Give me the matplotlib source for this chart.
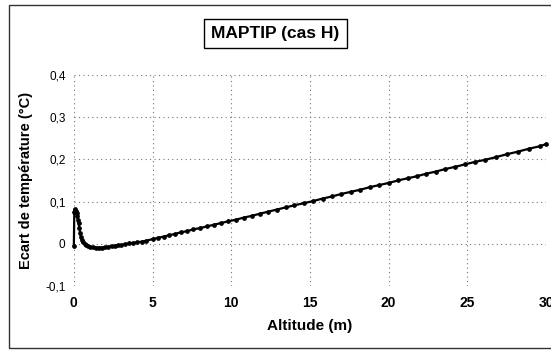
import matplotlib.pyplot as plt
from matplotlib.patches import Rectangle
from matplotlib.ticker import FuncFormatter

plt.rcParams['font.family'] = ['Liberation Sans', 'DejaVu Sans']

# altitude (m) and temperature difference (degC)
altitude = [0.0, 0.03, 0.06, 0.1, 0.14, 0.18, 0.22, 0.26, 0.3, 0.35, 0.4,
            0.45, 0.5, 0.6, 0.7, 0.8, 0.9, 1.0, 1.2, 1.4, 1.6, 1.8, 2.0,
            2.2, 2.4, 2.6, 2.8, 3.0, 3.25, 3.5, 3.75, 4.0, 4.3, 4.6, 5.0,
            5.35, 5.7, 6.05, 6.4, 6.8, 7.2, 7.6, 8.0, 8.45, 8.9, 9.35, 9.8,
            10.3, 10.8, 11.3, 11.8, 12.35, 12.9, 13.45, 14.0, 14.6, 15.2,
            15.8, 16.4, 17.0, 17.6, 18.2, 18.8, 19.4, 20.0, 20.6, 21.2,
            21.8, 22.4, 23.0, 23.6, 24.2, 24.85, 25.5, 26.15, 26.8, 27.5,
            28.2, 28.9, 29.6, 30.0]
ecart = [-0.005, 0.075, 0.082, 0.081, 0.078, 0.072, 0.065, 0.057, 0.048,
         0.037, 0.026, 0.017, 0.010, 0.003, -0.001, -0.004, -0.006, -0.007,
         -0.008, -0.009, -0.009, -0.009, -0.008, -0.007, -0.006, -0.005,
         -0.004, -0.003, -0.001, 0.001, 0.002, 0.003, 0.005, 0.007, 0.011,
         0.014, 0.017, 0.020, 0.023, 0.027, 0.030, 0.034, 0.037, 0.041,
         0.045, 0.049, 0.053, 0.057, 0.062, 0.066, 0.071, 0.076, 0.081,
         0.086, 0.091, 0.096, 0.101, 0.107, 0.112, 0.118, 0.123, 0.128,
         0.134, 0.139, 0.144, 0.150, 0.155, 0.160, 0.166, 0.171, 0.177,
         0.182, 0.188, 0.194, 0.199, 0.205, 0.212, 0.218, 0.225, 0.231,
         0.236]

x_ticks = [0, 5, 10, 15, 20, 25, 30]
y_ticks = [-0.1, 0, 0.1, 0.2, 0.3, 0.4]

fig = plt.figure(figsize=(5.51, 3.5), dpi=100)
ax = fig.add_axes([0.134, 0.183, 0.857, 0.603])

ax.plot(altitude, ecart, color='black', lw=1.6, marker='o', ms=2.4,
        zorder=3, clip_on=False)

ax.set_xlim(0, 30)
ax.set_ylim(-0.1, 0.4)
ax.set_xticks(x_ticks)
ax.set_yticks(y_ticks)
ax.yaxis.set_major_formatter(FuncFormatter(
    lambda v, p: '0' if abs(v) < 1e-9 else ('%.1f' % v).replace('.', ',')))
ax.tick_params(axis='y', length=0, labelsize=8.5, pad=6)
ax.tick_params(axis='x', length=0, labelsize=10, pad=7)
for lab in ax.get_xticklabels():
    lab.set_fontweight('bold')

for s in ax.spines.values():
    s.set_visible(False)
ax.grid(True, color='#777777', linestyle=(0, (1, 3)), lw=0.8)

ax.set_xlabel('Altitude (m)', fontsize=11, fontweight='bold', labelpad=7)
ax.set_ylabel('Ecart de température (°C)', fontsize=10.5, fontweight='bold',
              labelpad=9)

fig.text(0.5, 0.905, 'MAPTIP (cas H)', ha='center', va='center',
         fontsize=12.5, fontweight='bold',
         bbox=dict(boxstyle='square,pad=0.4', fc='white', ec='black', lw=1.0))

# outer frame of the chart area
fig.patches.append(Rectangle((0.016, 0.005), 0.99, 0.98, transform=fig.transFigure,
                             fill=False, ec='#333333', lw=1.0))

fig.savefig('out.png', dpi=100)
